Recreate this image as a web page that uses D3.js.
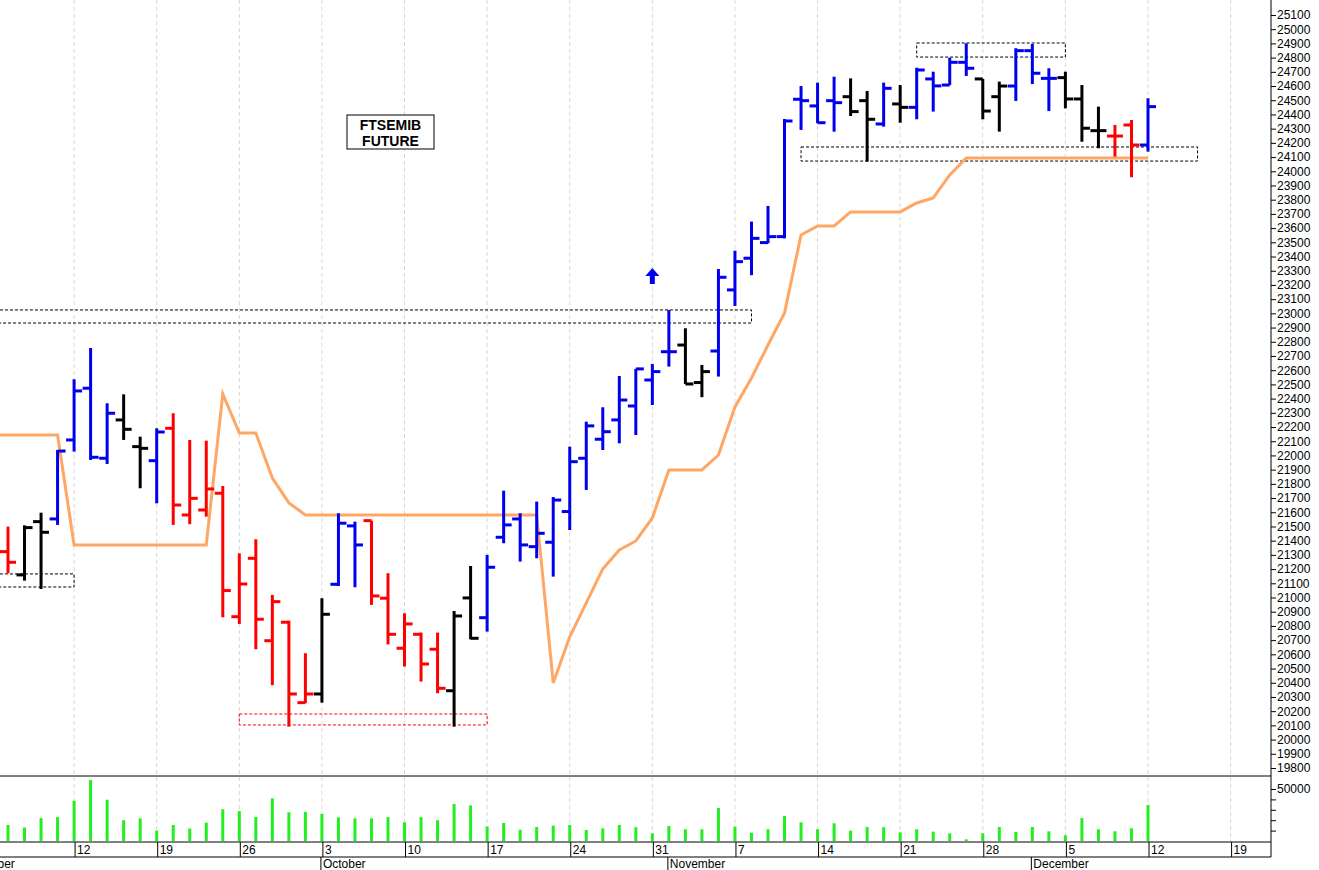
<!DOCTYPE html>
<html><head><meta charset="utf-8">
<script src="https://cdn.jsdelivr.net/npm/d3@7"></script>
<style>body{margin:0;background:#fff}svg{display:block;font-family:"Liberation Sans",Arial,sans-serif}</style>
</head><body><svg id="c" width="1319" height="870"></svg>
<script>
const dates=["09-06","09-07","09-08","09-09","09-12","09-13","09-14","09-15","09-16","09-19","09-20","09-21","09-22","09-23","09-26","09-27","09-28","09-29","09-30","10-03","10-04","10-05","10-06","10-07","10-10","10-11","10-12","10-13","10-14","10-17","10-18","10-19","10-20","10-21","10-24","10-25","10-26","10-27","10-28","10-31","11-01","11-02","11-03","11-04","11-07","11-08","11-09","11-10","11-11","11-14","11-15","11-16","11-17","11-18","11-21","11-22","11-23","11-24","11-25","11-28","11-29","11-30","12-01","12-02","12-05","12-06","12-07","12-08","12-09","12-12"];
const open=[21323,21159,21534,21553,22109,22473,21980,22250,22062,21963,22191,21581,21616,21734,20865,21276,20696,20826,20260,20321,21093,21504,21541,20995,20643,20741,20636,20344,20997,20858,21424,21553,21358,21389,21605,21980,22114,22250,22348,22531,22730,22777,22513,22735,23165,23388,23498,23540,24507,24460,24497,24525,24497,24333,24474,24450,24650,24607,24767,24650,24525,24600,24849,24654,24659,24509,24286,24248,24326,24185];
const high=[21499,21508,21597,22038,22536,22756,22367,22430,22132,22191,22297,22109,22104,21785,21311,21410,21018,20837,20608,20995,21593,21534,21541,21171,20889,20753,20753,20905,21222,21300,21752,21593,21675,21707,22062,22238,22339,22559,22609,22644,23024,22895,22637,23312,23441,23646,23756,24368,24600,24624,24666,24654,24565,24624,24607,24729,24701,24800,24901,24650,24631,24866,24896,24725,24701,24607,24455,24326,24361,24514];
const low=[21171,21119,21060,21511,22027,21968,21940,22109,21769,21663,21511,21516,21569,20861,20814,20636,20383,20091,20256,20260,21081,21072,20948,20670,20514,20408,20326,20091,20706,20760,21382,21253,21276,21147,21475,21757,22038,22085,22144,22355,22625,22503,22410,22555,23052,23269,23493,23528,24291,24338,24279,24389,24068,24314,24342,24366,24420,24607,24671,24366,24279,24495,24614,24424,24443,24208,24162,24103,23958,24138];
const close=[21248,21492,21459,22031,22454,21987,22297,22184,22050,22165,21651,21698,21764,21049,21095,20847,20971,20321,20321,20882,21523,21370,21011,20741,20814,20532,20361,20870,20713,21213,21511,21370,21452,21686,21956,22208,22167,22390,22609,22590,22730,22503,22590,23254,23364,23528,23540,24354,24497,24342,24483,24420,24366,24584,24450,24713,24601,24767,24725,24424,24600,24849,24690,24654,24509,24303,24286,24248,24185,24455];
const barColor=["r","k","k","b","b","b","b","k","k","b","r","r","r","r","r","r","r","r","r","k","b","b","r","r","r","r","r","k","k","b","b","b","b","b","b","b","b","b","b","b","b","k","k","b","b","b","b","b","b","b","b","k","k","b","k","b","b","b","b","k","k","b","b","b","k","k","k","r","r","b"];
// stop line starts one session earlier (Sep 5)
const stopLine=[22144,22144,22144,22144,22144,21370,21370,21370,21370,21370,21370,21370,21370,21370,22433,22158,22158,21841,21666,21581,21581,21581,21581,21581,21581,21581,21581,21581,21581,21581,21581,21581,21581,21581,20399,20723,20962,21201,21335,21398,21560,21898,21898,21898,22003,22341,22545,22777,23003,23552,23615,23615,23714,23714,23714,23714,23777,23812,23974,24094,24094,24094,24094,24094,24094,24094,24094,24094,24094,24094,24094];
const volume=[15400,13000,22000,23000,38700,58600,39700,20000,21800,10000,15400,12000,17600,30500,28800,23000,41000,27600,28000,26000,22800,21800,21800,23000,18000,23000,20000,35600,34300,14000,17300,10900,13500,14700,15400,10600,12200,15400,13200,7400,14400,11300,11300,31700,13800,8000,11300,24000,18000,11300,17000,9900,13500,13200,8300,11300,9000,7400,1600,7400,13500,8700,13500,9300,5500,22000,11300,9300,12200,34600];
const weekLabels=[[4,"12"],[9,"19"],[14,"26"],[19,"3"],[24,"10"],[29,"17"],[34,"24"],[39,"31"],[44,"7"],[49,"14"],[54,"21"],[59,"28"],[64,"5"],[69,"12"],[74,"19"]];
const monthLabels=[[-3.2,"September"],[19,"October"],[40,"November"],[62,"December"]];
const boxes=[{d0:-2,d1:4,p0:21074,p1:21166,c:"#000"},{d0:-2,d1:45,p0:22932,p1:23024,c:"#000"},{d0:14,d1:29,p0:20103,p1:20180,c:"#ff0000"},{d0:55,d1:64,p0:24804,p1:24903,c:"#000"},{d0:48,d1:72,p0:24072,p1:24171,c:"#000"}];
const priceTicks=d3.range(19800,25101,100);

const svg=d3.select("#c");
const x=d3.scaleLinear().domain([0,69]).range([8,1148]);
const y=d3.scaleLinear().domain([19800,25100]).range([768,15]);
const v=d3.scaleLinear().domain([0,50000]).range([841,789]);
const col={b:"#0000ee",r:"#ff0000",k:"#000000"};
const AX=1271;

const g=svg.append("g");
weekLabels.forEach(([i])=>g.append("line").attr("x1",x(i)).attr("x2",x(i)).attr("y1",0).attr("y2",842).attr("stroke","#d8d8d8").attr("stroke-dasharray","4,3"));

boxes.forEach(b=>g.append("rect").attr("x",x(b.d0)).attr("width",x(b.d1)-x(b.d0)).attr("y",y(b.p1)).attr("height",y(b.p0)-y(b.p1)).attr("fill","none").attr("stroke",b.c).attr("stroke-dasharray","3,2").attr("stroke-width",1));

g.append("path").datum(stopLine).attr("d",d3.line().x((d,i)=>x(i-1)).y(d=>y(d))).attr("fill","none").attr("stroke","#ffa664").attr("stroke-width",3);

const bars=g.selectAll(".bar").data(dates).join("g");
bars.append("line").attr("x1",(d,i)=>x(i)).attr("x2",(d,i)=>x(i)).attr("y1",(d,i)=>y(high[i])).attr("y2",(d,i)=>y(low[i])).attr("stroke",(d,i)=>col[barColor[i]]).attr("stroke-width",3);
bars.append("line").attr("x1",(d,i)=>x(i)-8).attr("x2",(d,i)=>x(i)).attr("y1",(d,i)=>y(open[i])).attr("y2",(d,i)=>y(open[i])).attr("stroke",(d,i)=>col[barColor[i]]).attr("stroke-width",3);
bars.append("line").attr("x1",(d,i)=>x(i)).attr("x2",(d,i)=>x(i)+8).attr("y1",(d,i)=>y(close[i])).attr("y2",(d,i)=>y(close[i])).attr("stroke",(d,i)=>col[barColor[i]]).attr("stroke-width",3);

g.selectAll(".vol").data(volume).join("line").attr("x1",(d,i)=>x(i)).attr("x2",(d,i)=>x(i)).attr("y1",d=>v(d)).attr("y2",841).attr("stroke","#22ee22").attr("stroke-width",3);

svg.append("rect").attr("x",347).attr("y",115).attr("width",87).attr("height",34).attr("fill","#fff").attr("stroke","#000");
svg.append("text").attr("x",390.5).attr("y",130).attr("text-anchor","middle").attr("font-size",14).attr("font-weight","bold").text("FTSEMIB");
svg.append("text").attr("x",390.5).attr("y",146).attr("text-anchor","middle").attr("font-size",14).attr("font-weight","bold").text("FUTURE");

svg.append("path").attr("d",`M${x(39)},${y(23320)} l-7,8 h4.5 v8 h5 v-8 h4.5 z`).attr("fill","#0000ee");

svg.append("g").attr("transform",`translate(${AX},0)`).call(d3.axisRight(y).tickValues(priceTicks).tickSize(5).tickFormat(d3.format("d"))).call(a=>{a.select(".domain").remove();a.selectAll("text").attr("font-size",12).attr("font-family","Liberation Sans, Arial").attr("dx",-2);});
svg.append("g").attr("transform",`translate(${AX},0)`).call(d3.axisRight(v).tickValues([10000,20000,30000,40000,50000]).tickSize(5).tickFormat(d=>d===50000?"50000":"")).call(a=>{a.select(".domain").remove();a.selectAll("text").attr("font-size",12).attr("font-family","Liberation Sans, Arial").attr("dx",-2);});
svg.append("line").attr("x1",AX).attr("x2",AX).attr("y1",0).attr("y2",857).attr("stroke","#000");
svg.append("line").attr("x1",0).attr("x2",AX).attr("y1",776).attr("y2",776).attr("stroke","#000");
svg.append("line").attr("x1",0).attr("x2",AX).attr("y1",842).attr("y2",842).attr("stroke","#000");
svg.append("line").attr("x1",0).attr("x2",AX).attr("y1",857).attr("y2",857).attr("stroke","#000");

weekLabels.forEach(([i,t])=>{
  svg.append("line").attr("x1",x(i)+1).attr("x2",x(i)+1).attr("y1",842).attr("y2",857).attr("stroke","#000");
  svg.append("text").attr("x",x(i)+3).attr("y",854).attr("font-size",12).text(t);
});
monthLabels.forEach(([i,t])=>{
  const xx=x(i)-1;
  svg.append("line").attr("x1",xx).attr("x2",xx).attr("y1",857).attr("y2",870).attr("stroke","#000");
  svg.append("text").attr("x",xx+2).attr("y",868).attr("font-size",12).text(t);
});
</script></body></html>
